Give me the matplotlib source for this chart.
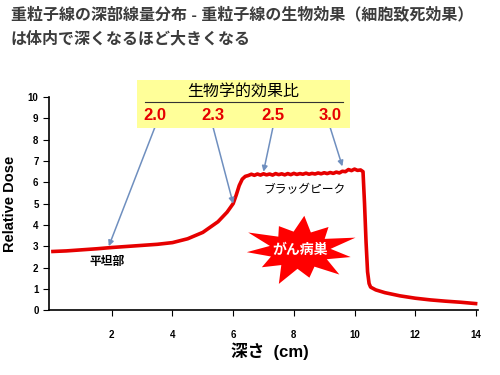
import numpy as np
import matplotlib.pyplot as plt
from matplotlib.patches import Polygon, Rectangle

plt.rcParams['font.family'] = ['Liberation Sans', 'Noto Sans CJK JP', 'DejaVu Sans']

# depth-dose curve
depth = [0.0, 0.5, 1.0, 1.5, 2.0, 2.5, 3.0, 3.5, 4.0, 4.5, 5.0, 5.5, 5.8, 6.0,
         6.1, 6.2, 6.3, 6.4,
         6.5, 6.6, 6.7, 6.8, 6.9, 7.0, 7.1, 7.2, 7.3, 7.4, 7.5, 7.6, 7.7, 7.8,
         7.9, 8.0, 8.1, 8.2, 8.3, 8.4, 8.5, 8.6, 8.7, 8.8, 8.9, 9.0, 9.1, 9.2,
         9.3, 9.4, 9.5, 9.6, 9.7, 9.8, 9.9, 10.0, 10.1, 10.2,
         10.28, 10.33, 10.38, 10.43, 10.48, 10.53, 10.7, 11.0, 11.5, 12.0,
         12.5, 13.0, 13.5, 14.05]
dose = [2.75, 2.78, 2.83, 2.88, 2.94, 2.99, 3.04, 3.09, 3.17, 3.35, 3.65, 4.15, 4.6, 5.0,
        5.4, 5.85, 6.15, 6.28,
        6.32, 6.38, 6.33, 6.39, 6.34, 6.40, 6.35, 6.39, 6.34, 6.41, 6.36, 6.40, 6.35, 6.41,
        6.36, 6.42, 6.37, 6.41, 6.38, 6.43, 6.38, 6.42, 6.39, 6.44, 6.40, 6.45, 6.41, 6.46,
        6.42, 6.48, 6.44, 6.52, 6.50, 6.60, 6.55, 6.62, 6.56, 6.58,
        6.5, 5.0, 3.2, 1.8, 1.25, 1.08, 0.95, 0.82, 0.67, 0.56,
        0.48, 0.42, 0.37, 0.30]

rbe_labels = ['2.0', '2.3', '2.5', '3.0']
rbe_text_x = [155, 213, 273, 330]          # pixel x of the labels
rbe_targets = [(1.9, 3.0), (6.0, 5.0), (7.0, 6.5), (9.6, 6.75)]

fig = plt.figure(figsize=(5, 3.75), dpi=100)
ax = fig.add_axes([0.098, 0.173, 0.858, 0.568])

ax.plot(depth, dose, color='#e60000', lw=2.6, solid_capstyle='butt', zorder=3)

ax.set_xlim(-0.07, 14.07)
ax.set_ylim(0, 10)
ax.set_xticks([2, 4, 6, 8, 10, 12, 14])
ax.set_yticks(range(0, 11))
ax.tick_params(labelsize=7, length=4, width=0.8)
for lab in ax.get_xticklabels() + ax.get_yticklabels():
    lab.set_fontweight('bold')
ax.tick_params(axis='x', pad=10)
ax.spines['top'].set_visible(False)
ax.spines['right'].set_visible(False)
ax.spines['left'].set_linewidth(1.2)
ax.spines['bottom'].set_linewidth(1.2)

ax.set_ylabel('Relative Dose', fontsize=10.5, fontweight='bold')
ax.yaxis.set_label_coords(-0.075, 0.5)
fig.text(0.54, 0.063, '深さ  (cm)', fontsize=12, fontweight='bold', ha='center', va='center')

# titles
fig.text(0.022, 0.962, '重粒子線の深部線量分布 - 重粒子線の生物効果（細胞致死効果）',
         fontsize=11.5, fontweight='bold', color='#3c3c3c', va='center')
fig.text(0.022, 0.897, 'は体内で深くなるほど大きくなる',
         fontsize=11.5, fontweight='bold', color='#3c3c3c', va='center')

# yellow RBE box (figure pixel coords -> fraction)
W, H = 500.0, 375.0
fig.patches.append(Rectangle((137 / W, 1 - 128 / H), (350 - 137) / W, (128 - 80) / H,
                             transform=fig.transFigure, facecolor='#ffff99',
                             edgecolor='none', zorder=1))
fig.text(243 / W, 1 - 91 / H, '生物学的効果比', fontsize=11.5, ha='center', va='center')
fig.lines.append(plt.Line2D([145 / W, 343 / W], [1 - 102 / H, 1 - 102 / H],
                            transform=fig.transFigure, color='#333333', lw=0.8))
for lab, px in zip(rbe_labels, rbe_text_x):
    fig.text(px / W, 1 - 115 / H, lab, fontsize=12, fontweight='bold',
             color='#e60000', ha='center', va='center')

# arrows from labels to curve
for px, (tx, ty) in zip(rbe_text_x, rbe_targets):
    start = (px / W, 1 - 127 / H)
    ax.annotate('', xy=(tx, ty), xycoords='data', xytext=start,
                textcoords='figure fraction',
                arrowprops=dict(arrowstyle='-|>', color='#6f8fbf', lw=1.1,
                                mutation_scale=8, shrinkA=0, shrinkB=0))

ax.text(1.85, 2.25, '平坦部', fontsize=8.5, fontweight='bold', ha='center', va='center')
ax.text(8.37, 5.63, 'ブラッグピーク', fontsize=8.5, ha='center', va='center')

# starburst for the tumour
spike_r = [1.0, 0.8, 0.95, 0.75, 1.0, 0.9, 0.8, 1.0, 0.78, 0.95, 0.88]
n = len(spike_r)
ang = np.linspace(0, 2 * np.pi, 2 * n, endpoint=False) + 0.35
rad = np.empty(2 * n)
rad[0::2] = spike_r
rad[1::2] = 0.52
cx, cy, rx, ry = 8.2, 2.82, 1.95, 1.7
pts = np.column_stack([cx + rx * rad * np.cos(ang), cy + ry * rad * np.sin(ang)])
ax.add_patch(Polygon(pts, closed=True, facecolor='#ff0000', edgecolor='none', zorder=2))
ax.text(cx, cy, 'がん病巣', fontsize=10, fontweight='bold', color='white',
        ha='center', va='center', zorder=4)

fig.savefig('out.png', dpi=100)
